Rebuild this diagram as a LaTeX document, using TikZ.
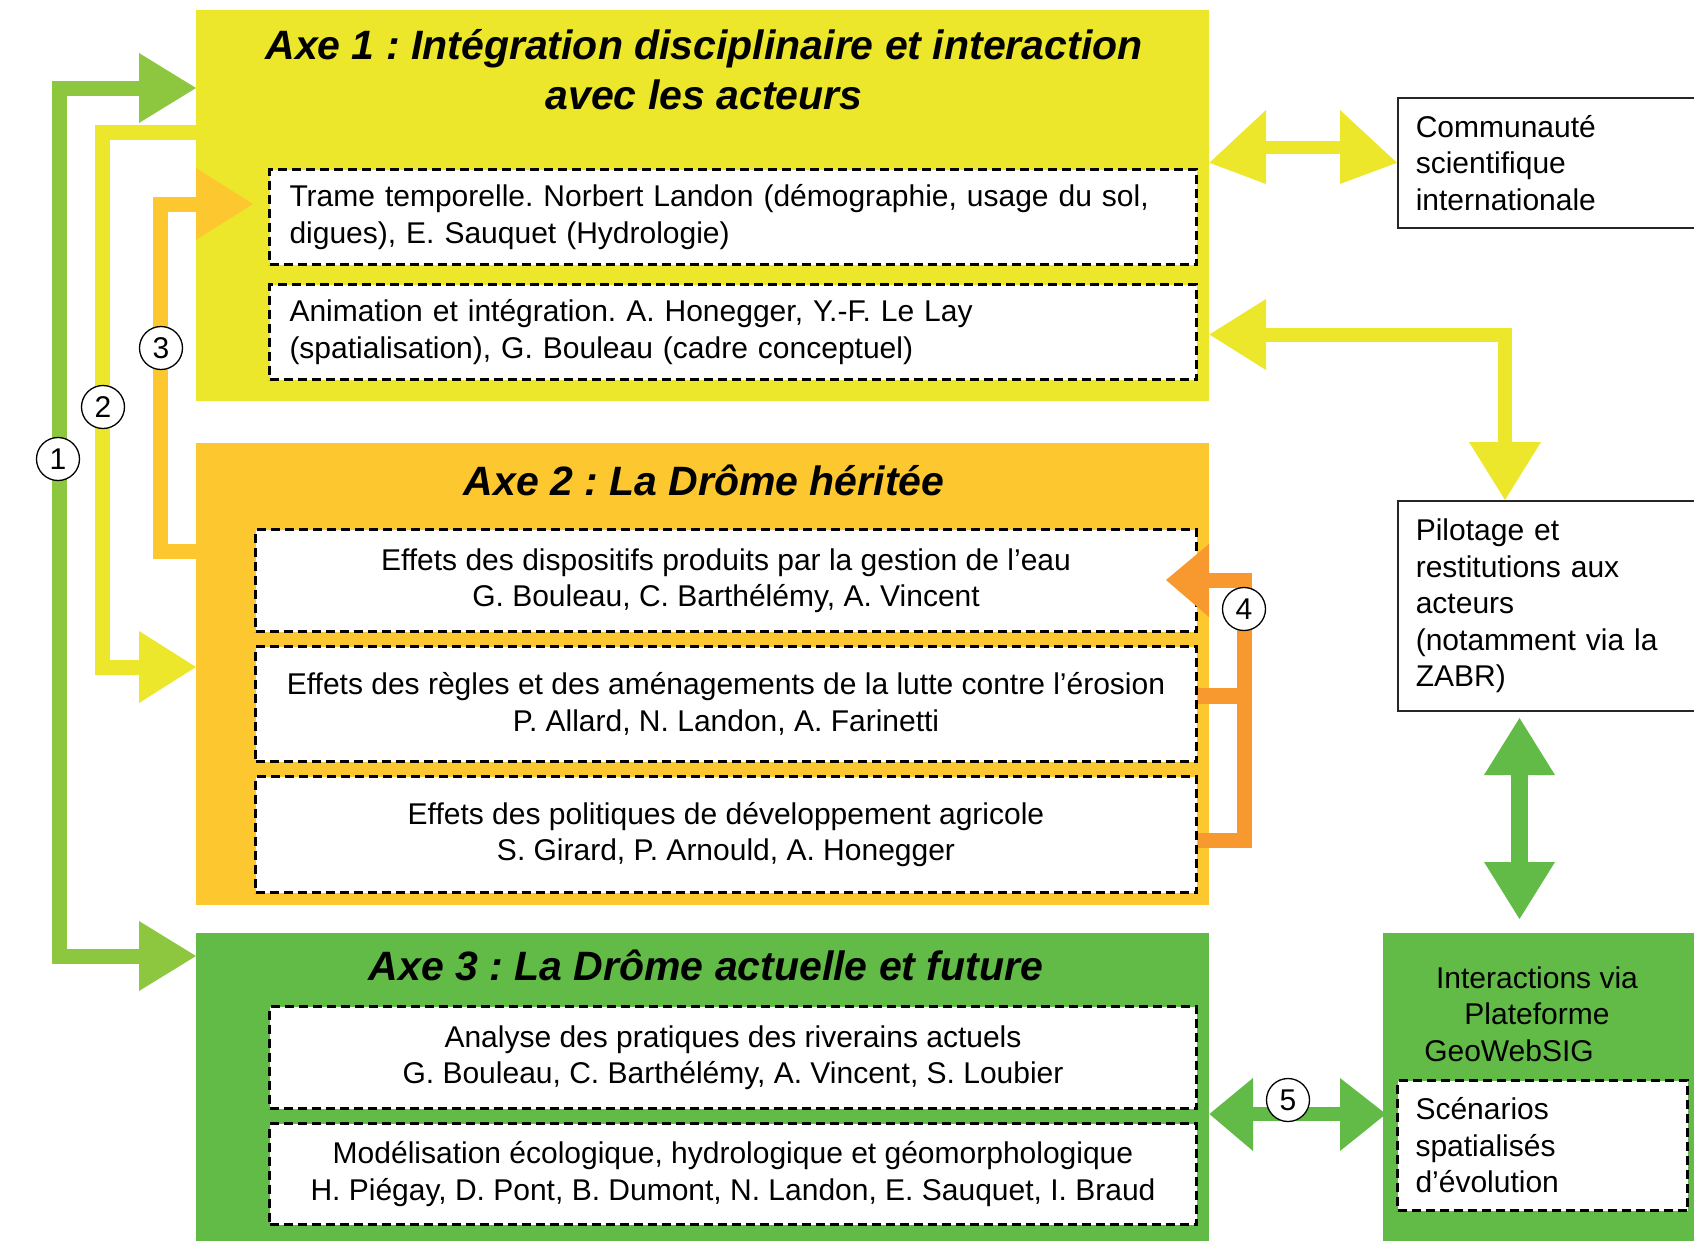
\documentclass[tikz,border=0pt]{standalone}
\usepackage{fontspec}
\setmainfont{Liberation Sans}
\usetikzlibrary{calc}
\definecolor{axeA}{RGB}{236,231,42}
\definecolor{axeB}{RGB}{253,200,47}
\definecolor{axeC}{RGB}{98,187,70}
\definecolor{lgreen}{RGB}{141,198,63}
\definecolor{orangeD}{RGB}{247,153,47}
\newcommand{\myfont}{\fontsize{30}{36.5}\selectfont}
\newcommand{\mytitle}{\fontsize{41}{50}\selectfont\bfseries\itshape}
\frenchspacing
\begin{document}
\begin{tikzpicture}[x=1pt,y=-1pt,
  axebox/.style={rectangle, inner sep=0pt, anchor=north west},
  dbox/.style={rectangle, draw=black, fill=white, line width=3pt, dash pattern=on 9pt off 5pt,
     font=\myfont, anchor=north west, inner xsep=20pt, inner ysep=0pt},
  sbox/.style={rectangle, draw=black!85, fill=white, line width=1.6pt, font=\myfont,
     anchor=north west, align=left, inner xsep=18pt, inner ysep=0pt},
  numc/.style={circle, draw=black, line width=1.3pt, fill=white, minimum size=43pt,
     inner sep=0pt, font=\myfont},
  shaft/.style={line width=15pt, line join=miter, line cap=butt},
  ttl/.style={font=\mytitle, align=center, inner sep=0pt}
]
\useasboundingbox (0,0) rectangle (1694,1240);
\clip (0,0) rectangle (1694,1240);

% main axis boxes
\node[axebox, fill=axeA, minimum width=1013pt, minimum height=391pt] (ax1) at (196,10) {};
\node[axebox, fill=axeB, minimum width=1013pt, minimum height=462pt] (ax2) at (196,443) {};
\node[axebox, fill=axeC, minimum width=1013pt, minimum height=310pt] (ax3) at (196,933) {};
\node[axebox, fill=axeC, minimum width=330pt, minimum height=310pt] (plat) at (1383,933) {};

% titles
\node[ttl] (t1) at (704,70) {Axe 1 : Intégration disciplinaire et interaction\\avec les acteurs};
\node[ttl] (t2) at (704,480) {Axe 2 : La Drôme héritée};
\node[ttl] (t3) at (706,965) {Axe 3 : La Drôme actuelle et future};

% Axe 1 dashed boxes
\node[dbox, align=left, text width=887pt, minimum height=95pt] (b11) at (268,168)
  {Trame temporelle. Norbert Landon (démographie, usage du sol,\\digues), E. Sauquet (Hydrologie)};
\node[dbox, align=left, text width=887pt, minimum height=95pt] (b12) at (268,283)
  {Animation et intégration. A. Honegger, Y.-F. Le Lay\\(spatialisation), G. Bouleau (cadre conceptuel)};

% Axe 2 dashed boxes
\node[dbox, align=center, minimum width=941pt, minimum height=102pt] (b21) at (254,528)
  {Effets des dispositifs produits par la gestion de l’eau\\G. Bouleau, C. Barthélémy, A. Vincent};
\node[dbox, align=center, minimum width=941pt, minimum height=115pt] (b22) at (254,645)
  {Effets des règles et des aménagements de la lutte contre l’érosion\\P. Allard, N. Landon, A. Farinetti};
\node[dbox, align=center, minimum width=941pt, minimum height=116pt] (b23) at (254,775)
  {Effets des politiques de développement agricole\\S. Girard, P. Arnould, A. Honegger};

% Axe 3 dashed boxes
\node[dbox, align=center, minimum width=927pt, minimum height=102pt] (b31) at (268,1005)
  {Analyse des pratiques des riverains actuels\\G. Bouleau, C. Barthélémy, A. Vincent, S. Loubier};
\node[dbox, align=center, minimum width=927pt, minimum height=101pt] (b32) at (268,1122)
  {Modélisation écologique, hydrologique et géomorphologique\\H. Piégay, D. Pont, B. Dumont, N. Landon, E. Sauquet, I. Braud};

% right-hand boxes
\node[sbox, text width=272pt, minimum height=130pt] (comm) at (1397,97)
  {Communauté\\scientifique\\internationale};
\node[sbox, text width=272pt, minimum height=210pt] (pilo) at (1397,500)
  {Pilotage et\\restitutions aux\\acteurs\\(notamment via la\\ZABR)};
\node[font=\myfont, align=center, inner sep=0pt] (pltxt) at (1537,1014)
  {Interactions via\\Plateforme\\GeoWebSIG\hspace*{56pt}};
\node[dbox, align=left, text width=254pt, inner xsep=18pt, minimum height=130pt] (scen) at (1396,1079)
  {Scénarios\\spatialisés\\d’évolution};

% ---- arrow 1 (light green) ----
\coordinate (a1t) at (59,88);
\coordinate (a1b) at (59,956);
\draw[shaft, lgreen] (140,88) -- (a1t) -- (a1b) -- (140,956);
\fill[lgreen] (139,53) -- (ax1.west |- a1t) -- (139,123) -- cycle;
\fill[lgreen] (139,921) -- (ax3.west |- a1b) -- (139,991) -- cycle;

% ---- arrow 2 (yellow) ----
\coordinate (a2t) at (102,132);
\coordinate (a2b) at (102,667);
\draw[shaft, axeA] (ax1.west |- a2t) -- (a2t) -- (a2b) -- (140,667);
\fill[axeA] (139,631) -- (ax2.west |- a2b) -- (139,703) -- cycle;

% ---- arrow 3 (orange-yellow) ----
\coordinate (a3t) at (160,204);
\coordinate (a3b) at (160,551);
\draw[shaft, axeB] (ax2.west |- a3b) -- (a3b) -- (a3t) -- (197,204);
\fill[axeB] (196,168) -- (253,204) -- (196,240) -- cycle;

% ---- Communaute double arrow (yellow) ----
\draw[line width=13pt, axeA] (1264,147) -- (1342,147);
\fill[axeA] (1266,110) -- (ax1.east |- comm.west) -- (1266,184) -- cycle;
\fill[axeA] (1340,110) -- (comm.west) -- (1340,184) -- cycle;

% ---- Animation <-> Pilotage (yellow) ----
\coordinate (a6c) at (1505,334.5);
\draw[shaft, line width=14pt, axeA] (1264,334.5) -- (a6c) -- (1505,444);
\fill[axeA] (1266,299) -- (ax1.east |- a6c) -- (1266,370) -- cycle;
\fill[axeA] (1469,442) -- (pilo.north -| a6c) -- (1541,442) -- cycle;

% ---- Pilotage <-> Plateforme (green) ----
\draw[line width=17pt, axeC] (1519.5,773) -- (1519.5,864);
\fill[axeC] (1484,775) -- (1519.5,718) -- (1555,775) -- cycle;
\fill[axeC] (1484,862) -- (1519.5,919) -- (1555,862) -- cycle;

% ---- arrow 4 (orange) ----
\coordinate (a4t) at (1244.5,580);
\coordinate (a4b) at (1244.5,840);
\draw[shaft, orangeD] (1207,580) -- (a4t) -- (a4b) -- (b23.east |- a4b);
\draw[shaft, line width=16pt, orangeD] (b22.east |- 0,696) -- (1245,696);
\fill[orangeD] (1209,544) -- (1166,580) -- (1209,617) -- cycle;

% ---- arrow 5 (green double) ----
\draw[line width=14pt, axeC] (1251,1114) -- (1342,1114);
\fill[axeC] (1253,1078) -- (ax3.east |- 0,1114) -- (1253,1151) -- cycle;
\fill[axeC] (1340,1078) -- (1386,1114) -- (1340,1151) -- cycle;

% numbered circles
\node[numc] (n1) at (58,459) {1};
\node[numc] (n2) at (103,407) {2};
\node[numc] (n3) at (161,348) {3};
\node[numc] (n4) at (1244,609) {4};
\node[numc] (n5) at (1288,1100) {5};
\end{tikzpicture}
\end{document}
